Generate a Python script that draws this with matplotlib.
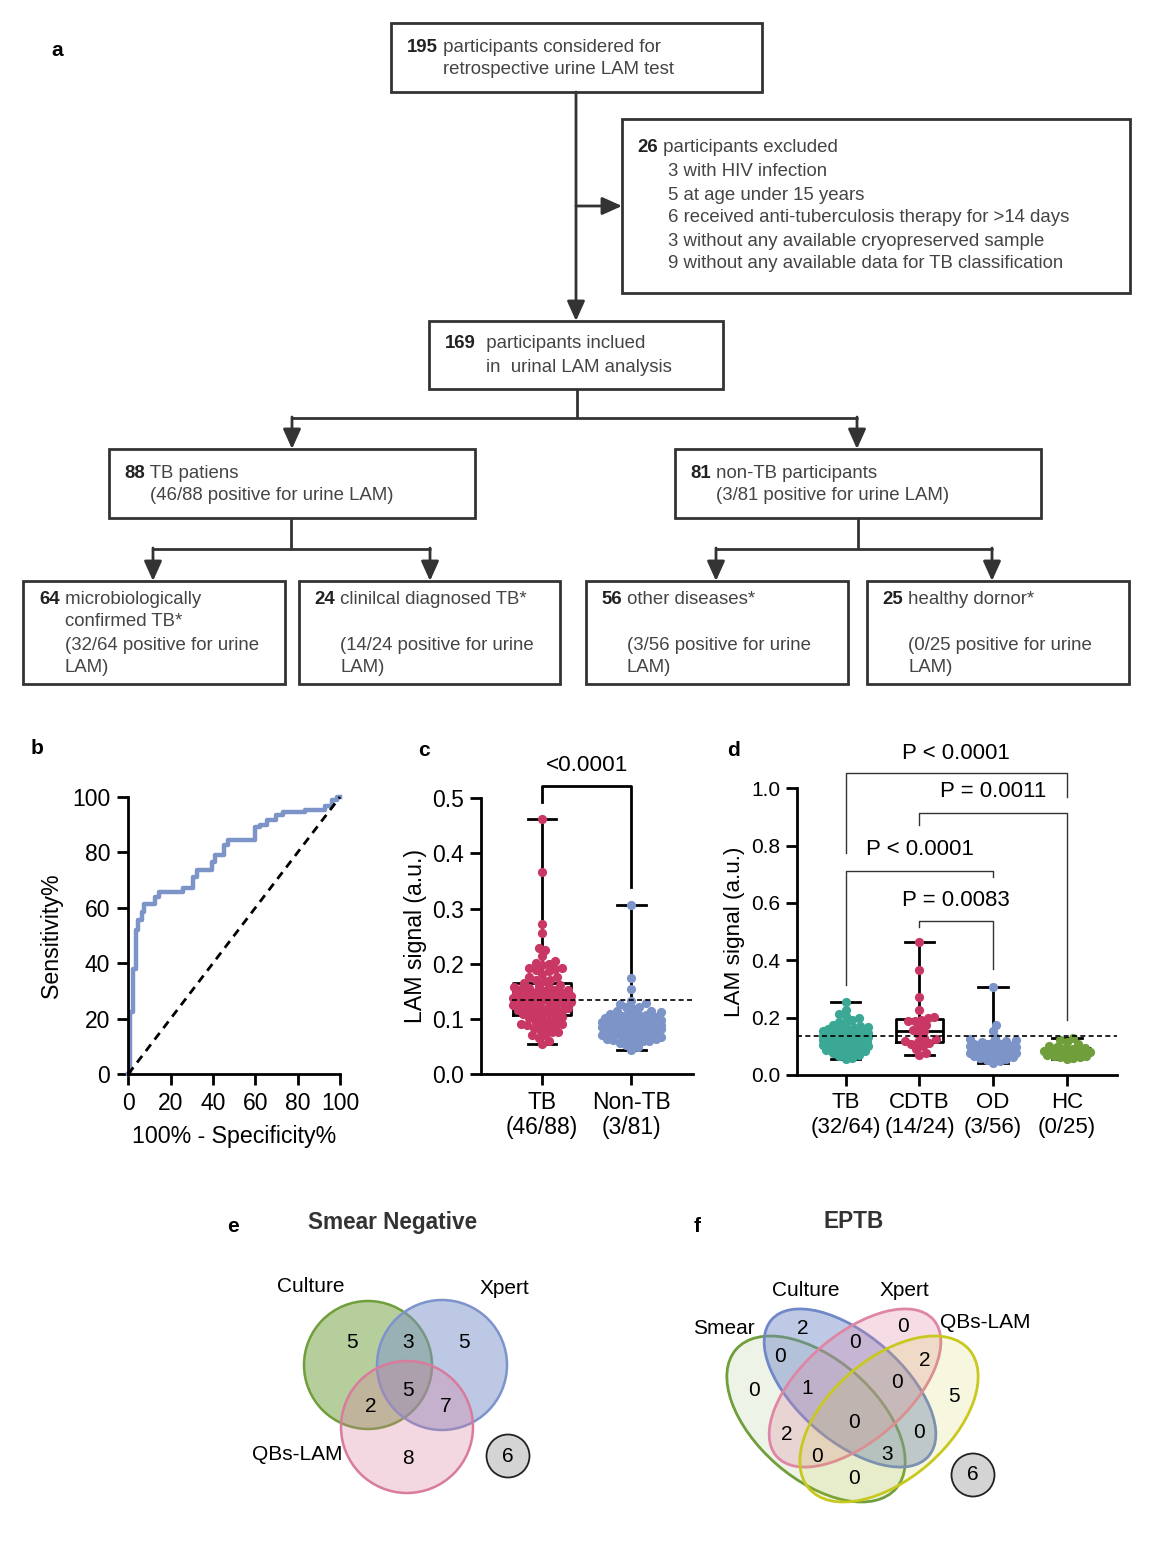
import numpy as np
import matplotlib.pyplot as plt
from matplotlib.patches import Rectangle, Circle, Ellipse
from matplotlib.colors import to_rgba

plt.rcParams['font.family'] = ['Liberation Sans', 'DejaVu Sans']

W, H = 1154, 1542
INK = '#333333'
TXT = '#444444'

# ROC curve (b): step corners, in %
roc_fpr = [0, 0.8, 2.4, 3.6, 4.7, 6.3, 7.4, 12.6, 14.6, 26, 30.7, 32.3, 39.4,
           41, 45, 47.2, 60, 62.2, 65.4, 70, 73.2, 83.5, 93, 96, 98.4, 100]
roc_tpr = [0, 22.5, 38, 52, 55.5, 58.5, 61.3, 64, 65.7, 67, 71, 73.5, 76.5,
           79, 82.6, 84.4, 89, 89.8, 91.6, 93.4, 94.6, 95.2, 96.6, 98.8, 100, 100]

# urine LAM signal (a.u.) per group, estimated from the scatter
tb_micro = [0.255, 0.228, 0.214, 0.205, 0.198, 0.193, 0.186, 0.182, 0.176, 0.171,
            0.168, 0.165, 0.162, 0.160, 0.158, 0.156, 0.154, 0.152, 0.150, 0.149,
            0.147, 0.146, 0.144, 0.143, 0.141, 0.140, 0.139, 0.138, 0.137, 0.137,
            0.136, 0.136, 0.134, 0.133, 0.131, 0.130, 0.128, 0.126, 0.125, 0.123,
            0.121, 0.119, 0.117, 0.115, 0.113, 0.111, 0.107, 0.105, 0.103, 0.101,
            0.097, 0.095, 0.093, 0.091, 0.089, 0.087, 0.085, 0.083, 0.080, 0.076,
            0.071, 0.066, 0.060, 0.055]
cdtb = [0.463, 0.367, 0.272, 0.225, 0.201, 0.199, 0.193, 0.190, 0.188, 0.176,
        0.171, 0.158, 0.152, 0.142, 0.128, 0.124, 0.120, 0.116, 0.112, 0.108,
        0.100, 0.090, 0.076, 0.070]
od = [0.306, 0.175, 0.155, 0.132, 0.127, 0.122, 0.118, 0.115, 0.112, 0.110,
      0.108, 0.107, 0.105, 0.104, 0.103, 0.102, 0.101, 0.100, 0.099, 0.098,
      0.097, 0.096, 0.095, 0.094, 0.093, 0.092, 0.091, 0.090, 0.089, 0.088,
      0.087, 0.086, 0.085, 0.085, 0.084, 0.083, 0.082, 0.081, 0.080, 0.079,
      0.078, 0.077, 0.076, 0.075, 0.074, 0.073, 0.071, 0.069, 0.067, 0.065,
      0.063, 0.060, 0.057, 0.053, 0.049, 0.043]
hc = [0.128, 0.122, 0.115, 0.108, 0.102, 0.097, 0.094, 0.091, 0.089, 0.087,
      0.085, 0.083, 0.081, 0.079, 0.077, 0.075, 0.074, 0.072, 0.070, 0.068,
      0.066, 0.064, 0.062, 0.059, 0.056]
cutoff = 0.135

c_names = ['TB\n(46/88)', 'Non-TB\n(3/81)']
c_pval = '<0.0001'
d_names = ['TB\n(32/64)', 'CDTB\n(14/24)', 'OD\n(3/56)', 'HC\n(0/25)']
d_pvals = ['P < 0.0001', 'P = 0.0011', 'P < 0.0001', 'P = 0.0083']
RED = '#c93865'
BLUE = '#7d94c8'
TEAL = '#3aa895'
GREEN = '#6f9e3a'

# Venn counts
e_sets = ['Culture', 'Xpert', 'QBs-LAM']
e_counts = [5, 3, 5, 2, 5, 7, 8]
e_none = 6
f_sets = ['Culture', 'Xpert', 'Smear', 'QBs-LAM']
f_counts = [2, 0, 0, 0, 2, 0, 1, 0, 5, 0, 2, 0, 0, 3, 0]
f_none = 6


def px_axes(x0, y0, x1, y1):
    return fig.add_axes([x0 / W, 1 - y1 / H, (x1 - x0) / W, (y1 - y0) / H])


def style_axes(ax, size, pad=3):
    for s in ['top', 'right']:
        ax.spines[s].set_visible(False)
    for s in ['left', 'bottom']:
        ax.spines[s].set_linewidth(2)
    ax.tick_params(direction='out', length=8, width=2, labelsize=size, pad=pad)


def swarm_x(ax, center, values, gap, max_off):
    # beeswarm offsets worked out in pixels
    pts = ax.transData.transform(np.column_stack([np.full(len(values), center), values]))
    ys = pts[:, 1]
    xscale = ax.transData.transform((1, 0))[0] - ax.transData.transform((0, 0))[0]
    step = gap / 4.0
    cands = [0.0]
    k = 1
    while k * step <= max_off:
        cands += [k * step, -k * step]
        k += 1
    cands = np.array(cands)
    px, py = [], []
    offs = np.zeros(len(values))
    for i in np.argsort(ys):
        y = ys[i]
        if px:
            ax_ = np.array(px)
            ay_ = np.array(py)
            d = np.sqrt((cands[:, None] - ax_[None, :]) ** 2 + (y - ay_[None, :]) ** 2).min(axis=1)
            ok = np.where(d >= gap)[0]
            c = cands[ok[0]] if len(ok) else cands[np.argmax(d)]
        else:
            c = 0.0
        px.append(c)
        py.append(y)
        offs[i] = c
    return center + offs / xscale


fig = plt.figure(figsize=(W / 100, H / 100), dpi=100)
ax0 = fig.add_axes([0, 0, 1, 1])
ax0.set_xlim(0, W)
ax0.set_ylim(H, 0)
ax0.axis('off')

# ---------------- a: flowchart ----------------
FS = 13.4


def box(x0, y0, x1, y1):
    ax0.add_patch(Rectangle((x0, y0), x1 - x0, y1 - y0, fill=False, lw=2, ec=INK))


def line(xs, ys):
    ax0.plot(xs, ys, color=INK, lw=2, solid_capstyle='butt')


def arrow(x0, y0, x1, y1):
    ax0.annotate('', xy=(x1, y1), xytext=(x0, y0),
                 arrowprops=dict(arrowstyle='-|>,head_length=0.6,head_width=0.27',
                                 mutation_scale=20, lw=2, color=INK,
                                 shrinkA=0, shrinkB=0))


def btext(x, y, num, rest):
    if num:
        t = ax0.text(x, y, num, fontsize=FS, fontweight='bold', color='#222222',
                     ha='left', va='center')
        ax0.annotate(rest, xy=(1, 0), xycoords=t, fontsize=FS, color=TXT,
                     ha='left', va='bottom')
    else:
        ax0.text(x, y, rest, fontsize=FS, color=TXT, ha='left', va='center')


box(391, 23, 762, 92)
btext(407, 47, '195', ' participants considered for')
btext(443, 70, '', 'retrospective urine LAM test')

box(622, 119, 1130, 293)
btext(637, 148, '26', ' participants excluded')
btext(668, 171, '', '3 with HIV infection')
btext(668, 195, '', '5 at age under 15 years')
btext(668, 218, '', '6 received anti-tuberculosis therapy for >14 days')
btext(668, 241, '', '3 without any available cryopreserved sample')
btext(668, 264, '', '9 without any available data for TB classification')

box(429, 321, 723, 389)
btext(445, 344, '169', '  participants inclued')
btext(486, 367, '', 'in  urinal LAM analysis')

box(109, 449, 475, 518)
btext(124, 473, '88', ' TB patiens')
btext(150, 496, '', '(46/88 positive for urine LAM)')

box(675, 449, 1041, 518)
btext(690, 473, '81', ' non-TB participants')
btext(716, 496, '', '(3/81 positive for urine LAM)')

box(23, 581, 285, 684)
btext(39, 599, '64', ' microbiologically')
btext(65, 622, '', 'confirmed TB*')
btext(65, 645, '', '(32/64 positive for urine')
btext(65, 668, '', 'LAM)')

box(299, 581, 560, 684)
btext(314, 599, '24', ' clinilcal diagnosed TB*')
btext(340, 645, '', '(14/24 positive for urine')
btext(340, 668, '', 'LAM)')

box(586, 581, 848, 684)
btext(601, 599, '56', ' other diseases*')
btext(627, 645, '', '(3/56 positive for urine')
btext(627, 668, '', 'LAM)')

box(867, 581, 1129, 684)
btext(882, 599, '25', ' healthy dornor*')
btext(908, 645, '', '(0/25 positive for urine')
btext(908, 668, '', 'LAM)')

arrow(576, 92, 576, 321)
arrow(576, 206, 622, 206)
line([577, 577], [389, 418])
line([291, 858], [418, 418])
arrow(292, 417, 292, 449)
arrow(857, 417, 857, 449)
line([291, 291], [518, 549])
line([152, 431], [549, 549])
arrow(153, 548, 153, 581)
arrow(430, 548, 430, 581)
line([858, 858], [518, 549])
line([715, 993], [549, 549])
arrow(716, 548, 716, 581)
arrow(992, 548, 992, 581)

# panel letters
for lab, x, y in [('a', 57, 50), ('b', 37, 748), ('c', 424, 750),
                  ('d', 733, 750), ('e', 233, 1226), ('f', 697, 1226)]:
    ax0.text(x, y, lab, fontsize=15, fontweight='bold', ha='center', va='center')

# ---------------- b: ROC ----------------
ax_b = px_axes(128.3, 797, 340, 1074)
style_axes(ax_b, 16.5, pad=5)
ax_b.step(roc_fpr, roc_tpr, where='post', color=BLUE, lw=3.2, clip_on=False,
          solid_joinstyle='round')
ax_b.plot([0, 100], [0, 100], color='k', lw=2, ls=(0, (3, 2.2)), clip_on=False)
ax_b.set_xlim(0, 100)
ax_b.set_ylim(0, 100)
ax_b.set_xticks(np.arange(0, 101, 20))
ax_b.set_yticks(np.arange(0, 101, 20))
ax_b.set_ylabel('Sensitivity%', fontsize=16.7, va='center')
ax_b.yaxis.set_label_coords(-0.362, 0.5)
ax_b.set_xlabel('100% - Specificity%', fontsize=16.7, va='center')
ax_b.xaxis.set_label_coords(0.5, -0.226)

# ---------------- c: TB vs non-TB ----------------
ax_c = px_axes(480.7, 798.3, 693, 1074)
style_axes(ax_c, 16.5, pad=4)
ax_c.set_xlim(-0.687, 1.69)
ax_c.set_ylim(0, 0.5)
c_groups = [tb_micro + cdtb, od + hc]
c_cols = [RED, BLUE]
box_kw = dict(color='k', lw=2)
ax_c.boxplot(c_groups, positions=[0, 1], widths=0.64, whis=(0, 100), showfliers=False,
             capwidths=0.32, manage_ticks=False, boxprops=box_kw, whiskerprops=box_kw,
             capprops=box_kw, medianprops=box_kw, zorder=2)
for i, (vals, col) in enumerate(zip(c_groups, c_cols)):
    xs = swarm_x(ax_c, i, vals, 6.5, 30)
    ax_c.scatter(xs, vals, s=44, color=col, lw=0, zorder=3, clip_on=False)
ax_c.hlines(cutoff, -0.34, 1.69, colors='k', lw=1.2, linestyles=(0, (3, 2)), zorder=4)
ax_c.plot([0, 0, 1, 1], [0.494, 0.522, 0.522, 0.34], color='k', lw=2, clip_on=False)
ax_c.text(0.5, 0.56, c_pval, fontsize=16.2, ha='center', va='center')
ax_c.set_xticks([0, 1])
ax_c.set_xticklabels(c_names, linespacing=1.12)
ax_c.set_yticks(np.arange(0, 0.51, 0.1))
ax_c.set_yticklabels(['%.1f' % v for v in np.arange(0, 0.51, 0.1)])
ax_c.set_ylabel('LAM signal (a.u.)', fontsize=16.7, va='center')
ax_c.yaxis.set_label_coords(-0.309, 0.5)

# ---------------- d: four groups ----------------
ax_d = px_axes(796.7, 788.3, 1117, 1075)
style_axes(ax_d, 15, pad=4)
ax_d.set_xlim(-0.665, 3.68)
ax_d.set_ylim(0, 1.0)
d_groups = [tb_micro, cdtb, od, hc]
d_cols = [TEAL, RED, BLUE, GREEN]
ax_d.boxplot(d_groups, positions=[0, 1, 2, 3], widths=0.63, whis=(0, 100), showfliers=False,
             capwidths=0.4, manage_ticks=False, boxprops=box_kw, whiskerprops=box_kw,
             capprops=box_kw, medianprops=box_kw, zorder=2)
for i, (vals, col) in enumerate(zip(d_groups, d_cols)):
    xs = swarm_x(ax_d, i, vals, 6.5, 23)
    ax_d.scatter(xs, vals, s=44, color=col, lw=0, zorder=3, clip_on=False)
ax_d.axhline(cutoff, color='k', lw=1.2, ls=(0, (3, 2)), zorder=4)
# (left, right, top, left leg end, right leg end, text y)
brackets = [(0, 3, 1.055, 0.776, 0.971, 1.12), (1, 3, 0.913, 0.872, 0.192, 0.988),
            (0, 2, 0.713, 0.314, 0.692, 0.785), (1, 2, 0.537, 0.517, 0.369, 0.608)]
for (i, j, top, lb, rb, ty), p in zip(brackets, d_pvals):
    ax_d.plot([i, i, j, j], [lb, top, top, rb], color=INK, lw=1, clip_on=False)
    ax_d.text((i + j) / 2, ty, p, fontsize=16, ha='center', va='center')
ax_d.set_xticks([0, 1, 2, 3])
ax_d.set_xticklabels(d_names, linespacing=1.25, fontsize=16)
ax_d.set_yticks(np.arange(0, 1.01, 0.2))
ax_d.set_yticklabels(['%.1f' % v for v in np.arange(0, 1.01, 0.2)])
ax_d.set_ylabel('LAM signal (a.u.)', fontsize=16.2, va='center')
ax_d.yaxis.set_label_coords(-0.193, 0.5)

# ---------------- e: Venn, smear negative ----------------
VFS = 15
ax0.text(393, 1222, 'Smear Negative', fontsize=16.3, fontweight='bold', color=INK,
         ha='center', va='center')
for (cx, cy, r), col, a in zip([(368, 1365, 64), (442, 1365, 65), (407, 1427, 66)],
                               [GREEN, '#7d93cc', '#d97b9c'], [0.5, 0.5, 0.3]):
    ax0.add_patch(Circle((cx, cy), r, fc=to_rgba(col, a), ec=col, lw=1.8))
for name, (x, y) in zip(e_sets, [(311, 1286), (504, 1288), (297, 1455)]):
    ax0.text(x, y, name, fontsize=VFS, ha='center', va='center')
for n, (x, y) in zip(e_counts, [(352, 1343), (408, 1343), (464, 1343), (371, 1406),
                                (408, 1391), (446, 1406), (408, 1458)]):
    ax0.text(x, y, str(n), fontsize=VFS, ha='center', va='center')
ax0.add_patch(Circle((508, 1456), 21.5, fc='#d4d4d4', ec='#222222', lw=1.3))
ax0.text(508, 1456, str(e_none), fontsize=VFS, ha='center', va='center')

# ---------------- f: Venn, EPTB ----------------
ax0.text(854, 1222, 'EPTB', fontsize=16.3, fontweight='bold', color=INK,
         ha='center', va='center')
ell = [((816, 1419), 106, 60, 41, GREEN, 0.12),
       ((850, 1388), 104, 53, 41, '#7088c8', 0.45),
       ((855, 1388), 104, 53, -41, '#df86a4', 0.28),
       ((889, 1419), 106, 60, -41, '#c8c81e', 0.14)]
for (c, a, b, ang, col, al) in ell:
    ax0.add_patch(Ellipse(c, 2 * a, 2 * b, angle=ang, fc=to_rgba(col, al), ec=col, lw=2))
for name, (x, y) in zip(f_sets, [(806, 1290), (904, 1290), (724, 1328), (985, 1323)]):
    ax0.text(x, y, name, fontsize=VFS, ha='center', va='center')
f_pos = [(803, 1328), (855, 1342), (903, 1327), (780, 1357), (925, 1360),
         (754, 1390), (807, 1388), (897, 1382), (954, 1397), (854, 1423),
         (787, 1435), (919, 1433), (817, 1457), (887, 1455), (854, 1478)]
for n, (x, y) in zip(f_counts, f_pos):
    ax0.text(x, y, str(n), fontsize=VFS, ha='center', va='center')
ax0.add_patch(Circle((973, 1475), 21.5, fc='#d4d4d4', ec='#222222', lw=1.3))
ax0.text(973, 1475, str(f_none), fontsize=VFS, ha='center', va='center')

fig.savefig('out.png', dpi=100)
